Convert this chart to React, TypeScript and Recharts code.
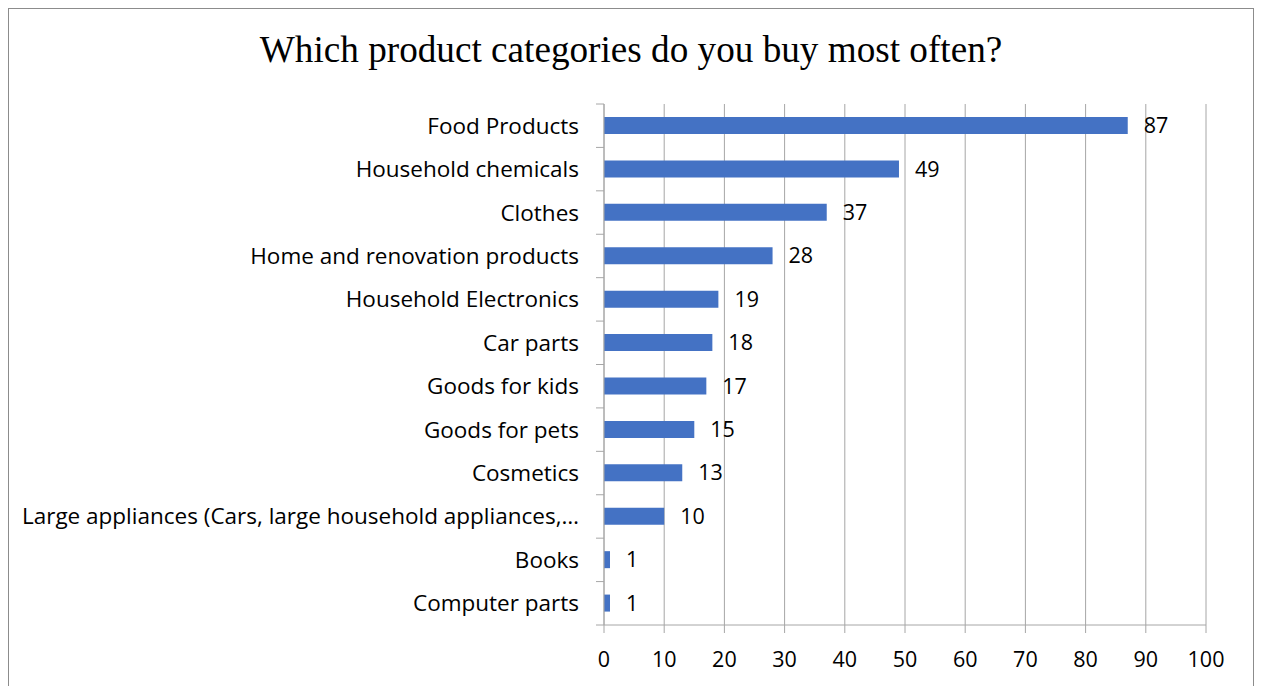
import { BarChart, Bar, XAxis, YAxis, CartesianGrid, LabelList } from "recharts";

const categories = [
  "Food Products",
  "Household chemicals",
  "Clothes",
  "Home and renovation products",
  "Household Electronics",
  "Car parts",
  "Goods for kids",
  "Goods for pets",
  "Cosmetics",
  "Large appliances (Cars, large household appliances,…",
  "Books",
  "Computer parts",
];

const answers = [87, 49, 37, 28, 19, 18, 17, 15, 13, 10, 1, 1];

const xTicks = [0, 10, 20, 30, 40, 50, 60, 70, 80, 90, 100];

const data = categories.map((name, i) => ({ name, value: answers[i] }));

const FONT = "'Open Sans', Lato, sans-serif";
const GRID = "#a6a6a6";
const BAND = 521 / categories.length;

function CategoryTick(props: any) {
  const { x, y, payload, index } = props;
  return (
    <g>
      <line x1={x + 17} x2={x + 25} y1={y - BAND / 2} y2={y - BAND / 2} stroke={GRID} />
      {index === categories.length - 1 && (
        <line x1={x + 17} x2={x + 25} y1={y + BAND / 2} y2={y + BAND / 2} stroke={GRID} />
      )}
      <text
        x={x}
        y={y}
        dy={8}
        textAnchor="end"
        fontFamily={FONT}
        fontSize={22.5}
        fill="#000"
      >
        {payload.value}
      </text>
    </g>
  );
}

export default function App() {
  return (
    <div
      style={{
        position: "relative",
        width: 1248,
        height: 700,
        marginLeft: -1,
        background: "#fff",
      }}
    >
      <div
        style={{
          position: "absolute",
          top: 20,
          left: 0,
          width: "100%",
          textAlign: "center",
          fontFamily: "'Liberation Serif', 'Times New Roman', serif",
          fontSize: 37.2,
          lineHeight: "normal",
          color: "#000",
        }}
      >
        Which product categories do you buy most often?
      </div>

      <BarChart
        width={1248}
        height={700}
        data={data}
        layout="vertical"
        margin={{ top: 96, right: 49, left: 0, bottom: 53 }}
      >
        <CartesianGrid horizontal={false} stroke={GRID} />
        <XAxis
          type="number"
          domain={[0, 100]}
          ticks={xTicks}
          interval={0}
          stroke={GRID}
          tickSize={8}
          tickMargin={19}
          height={30}
          tick={{ fill: "#000", fontSize: 21.5, fontFamily: FONT }}
        />
        <YAxis
          type="category"
          dataKey="name"
          width={597}
          stroke={GRID}
          tickLine={false}
          tickSize={0}
          tickMargin={25}
          interval={0}
          tick={<CategoryTick />}
        />
        <Bar dataKey="value" fill="#4472c4" barSize={17} isAnimationActive={false}>
          <LabelList
            dataKey="value"
            position="right"
            offset={16}
            fill="#000"
            fontSize={21.5}
            fontFamily={FONT}
          />
        </Bar>
      </BarChart>

      <div
        style={{
          position: "absolute",
          top: 0,
          left: 0,
          width: 1244,
          height: 697,
          borderTop: "1px solid #8c8c8c",
          borderLeft: "2px solid #8c8c8c",
          borderRight: "2px solid #8c8c8c",
          pointerEvents: "none",
          zIndex: 5,
        }}
      />
    </div>
  );
}
